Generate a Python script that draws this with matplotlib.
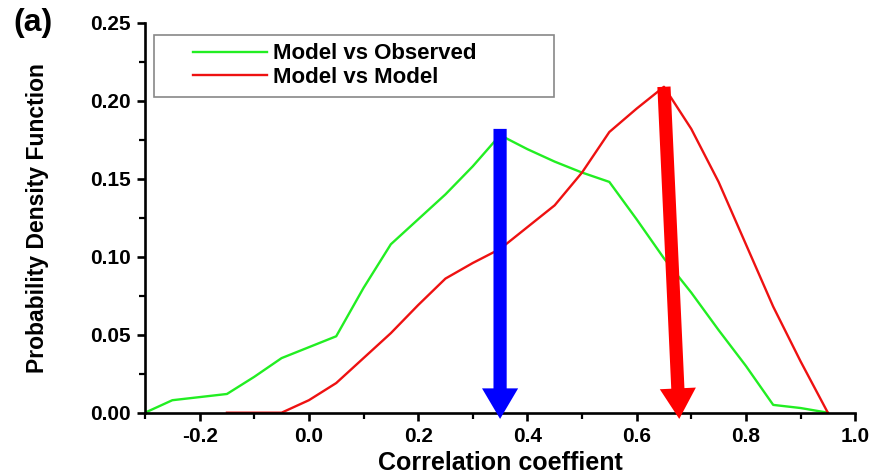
import matplotlib
matplotlib.use("Agg")
import matplotlib.pyplot as plt
from matplotlib.ticker import MultipleLocator
from matplotlib.legend_handler import HandlerLine2D

plt.rcParams["font.family"] = ["Liberation Sans", "DejaVu Sans"]
plt.rcParams["font.weight"] = "bold"
plt.rcParams["axes.unicode_minus"] = False

# correlation coefficient bins
obs_x = [-0.3, -0.25, -0.2, -0.15, -0.1, -0.05, 0.0, 0.05, 0.1, 0.15, 0.2, 0.25, 0.3,
         0.35, 0.4, 0.45, 0.5, 0.55, 0.6, 0.65, 0.7, 0.75, 0.8, 0.85, 0.9, 0.95]
obs_pdf = [0.0, 0.008, 0.010, 0.012, 0.023, 0.035, 0.042, 0.049, 0.080, 0.108, 0.124, 0.140, 0.158,
           0.178, 0.169, 0.161, 0.154, 0.148, 0.124, 0.099, 0.077, 0.053, 0.030, 0.005, 0.003, 0.0]

mod_x = [-0.15, -0.1, -0.05, 0.0, 0.05, 0.1, 0.15, 0.2, 0.25, 0.3, 0.35, 0.4, 0.45,
         0.5, 0.55, 0.6, 0.65, 0.7, 0.75, 0.8, 0.85, 0.9, 0.95]
mod_pdf = [0.0, 0.0, 0.0, 0.008, 0.019, 0.035, 0.051, 0.069, 0.086, 0.096, 0.105, 0.119, 0.133,
           0.154, 0.180, 0.195, 0.209, 0.182, 0.148, 0.108, 0.068, 0.033, 0.0]

# arrows marking the peaks: (x_start, y_start, x_end, y_end)
blue_arrow = (0.35, 0.182, 0.35, -0.004)
red_arrow = (0.65, 0.209, 0.678, -0.004)

fig = plt.figure(figsize=(8.88, 4.76), dpi=100)
ax = fig.add_axes([0.1633, 0.133, 0.7997, 0.819])

ax.plot(obs_x, obs_pdf, color="#22ee22", lw=1.7, label="Model vs Observed")
ax.plot(mod_x, mod_pdf, color="#ee1111", lw=1.7, label="Model vs Model")

for (x0, y0, x1, y1), col in [(blue_arrow, "#0000ff"), (red_arrow, "#ff0000")]:
    ax.annotate("", xy=(x1, y1), xytext=(x0, y0), annotation_clip=False,
                arrowprops=dict(arrowstyle="simple,head_length=2.2,head_width=2.6,tail_width=0.95",
                                mutation_scale=10, color=col, shrinkA=0, shrinkB=0, lw=0))

ax.set_xlim(-0.3, 1.0)
ax.set_ylim(0, 0.25)
ax.xaxis.set_minor_locator(MultipleLocator(0.1))
ax.yaxis.set_major_locator(MultipleLocator(0.05))
ax.yaxis.set_minor_locator(MultipleLocator(0.025))
ax.set_xticks([-0.2, 0.0, 0.2, 0.4, 0.6, 0.8, 1.0])

for s in ["top", "right"]:
    ax.spines[s].set_visible(False)
for s in ["left", "bottom"]:
    ax.spines[s].set_linewidth(1.9)
ax.tick_params(which="major", length=6, width=1.9, labelsize=15, pad=4)
ax.tick_params(which="minor", length=4, width=1.6)

ax.set_xlabel("Correlation coeffient", fontsize=18, fontweight="bold", labelpad=4)
ax.set_ylabel("Probability Density Function", fontsize=16.5, fontweight="bold")
ax.yaxis.set_label_coords(-0.135, 0.5)

hl = HandlerLine2D(xpad=1.35)
leg = ax.legend(loc="upper left", bbox_to_anchor=(0.0127, 0.97, 0.5634, 0.0), mode="expand",
                fontsize=16, handlelength=4.7, handletextpad=0.25, borderpad=0.4,
                labelspacing=0.12, fancybox=False, framealpha=1, borderaxespad=0,
                handler_map={plt.Line2D: hl})
leg.get_frame().set_edgecolor("#888888")
leg.get_frame().set_linewidth(1.2)

fig.text(0.015, 0.952, "(a)", fontsize=23, fontweight="bold", va="center", ha="left")

fig.savefig("out.png", dpi=100)
